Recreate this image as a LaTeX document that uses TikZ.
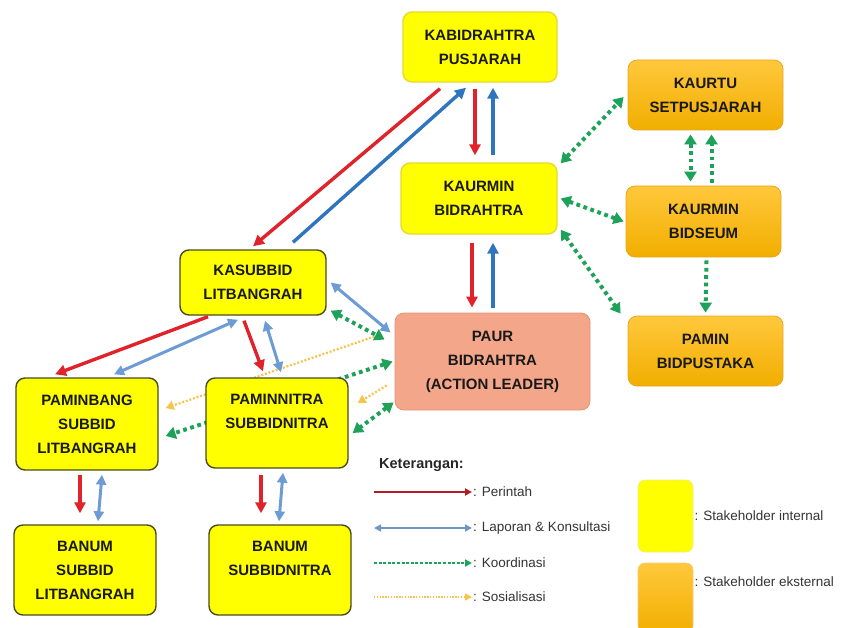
\documentclass[tikz,border=0pt]{standalone}
\usepackage{fontspec}
\setmainfont{Liberation Sans}
\usetikzlibrary{arrows.meta,calc,backgrounds}
\definecolor{ybox}{HTML}{FFFF00}
\definecolor{ydark}{HTML}{4A4A22}
\definecolor{ylight}{HTML}{E8D830}
\definecolor{otop}{HTML}{FFC83C}
\definecolor{obot}{HTML}{F2AE00}
\definecolor{oline}{HTML}{E6A81E}
\definecolor{pfill}{HTML}{F4A68A}
\definecolor{pline}{HTML}{E39274}
\definecolor{cred}{HTML}{E0232B}
\definecolor{cblue}{HTML}{2E74BE}
\definecolor{lblue}{HTML}{6D9CD4}
\definecolor{cgreen}{HTML}{1EA25A}
\definecolor{cyel}{HTML}{F6C34C}
\begin{document}
\begin{tikzpicture}[x=1pt,y=-1pt,
  box/.style={rounded corners=9pt, align=center, inner sep=0pt,
    font=\bfseries\fontsize{15}{24}\selectfont, text=black!90},
  intd/.style={box, fill=ybox, draw=ydark, line width=1.4pt},
  intl/.style={box, fill=ybox, draw=ylight, line width=1.4pt},
  ext/.style={box, top color=otop, bottom color=obot, draw=oline, line width=0.8pt},
  lead/.style={box, fill=pfill, draw=pline, line width=0.8pt},
  perintah/.style={draw=cred, line width=3.4pt, -{Triangle[length=11pt,width=11pt]}},
  lapor/.style={draw=cblue, line width=3.4pt, -{Triangle[length=11pt,width=11pt]}},
  lapor2/.style={draw=lblue, line width=3pt, {Triangle[length=10pt,width=10pt]}-{Triangle[length=10pt,width=10pt]}},
  koor/.style={draw=cgreen, line width=4pt, dash pattern=on 3.8pt off 3.6pt, {Triangle[length=10pt,width=12pt]}-{Triangle[length=10pt,width=12pt]}},
  koor1/.style={draw=cgreen, line width=4pt, dash pattern=on 3.8pt off 3.6pt, -{Triangle[length=10pt,width=12pt]}},
  sosial/.style={draw=cyel, line width=2.2pt, dash pattern=on 2pt off 1.8pt, -{Triangle[length=8pt,width=9pt]}},
  legtxt/.style={anchor=west, inner sep=1pt, font=\fontsize{13.5}{15}\selectfont, text=black!80}
]
\useasboundingbox (0,0) rectangle (866,628);

% ---------- nodes ----------
\node[intl, minimum width=154pt, minimum height=70pt] (kabid) at (480,47) {KABIDRAHTRA\\PUSJARAH};
\node[intl, minimum width=156pt, minimum height=71pt] (kaurmin) at (479,198.5) {KAURMIN\\BIDRAHTRA};
\node[lead, minimum width=195pt, minimum height=97pt] (paur) at (492.5,361.5) {PAUR\\BIDRAHTRA\\(ACTION LEADER)};
\node[ext, minimum width=155pt, minimum height=70pt] (kaurtu) at (705.5,95) {KAURTU\\SETPUSJARAH};
\node[ext, minimum width=155pt, minimum height=71pt] (bidseum) at (703.5,221.5) {KAURMIN\\BIDSEUM};
\node[ext, minimum width=155pt, minimum height=70pt] (pamin) at (705.5,351) {PAMIN\\BIDPUSTAKA};
\node[intd, minimum width=146pt, minimum height=65pt] (kasubbid) at (253,282.5) {KASUBBID\\LITBANGRAH};
\node[intd, minimum width=142pt, minimum height=92pt] (paminbang) at (87,424) {PAMINBANG\\SUBBID\\LITBANGRAH};
\node[intd, minimum width=142pt, minimum height=90pt] (paminnitra) at (277,423) {PAMINNITRA\\SUBBIDNITRA\\\mbox{}};
\node[intd, minimum width=142pt, minimum height=90pt] (banum1) at (85,570) {BANUM\\SUBBID\\LITBANGRAH};
\node[intd, minimum width=142pt, minimum height=90pt] (banum2) at (280,570) {BANUM\\SUBBIDNITRA\\\mbox{}};

% ---------- connectors passing behind PAMINNITRA ----------
\begin{pgfonlayer}{background}
\draw[sosial] ($(paur.west)+(-20,-25)$) -- ($(paminbang.east)+(7,-16)$);
\draw[koor] ($(paur.west)+(-2,0)$) -- ($(paminbang.east)+(7,12)$);
\end{pgfonlayer}

% ---------- top part ----------
\draw[perintah] ($(kabid.south)+(-40,6)$) -- ($(kasubbid.north)+(0,-3)$);
\draw[lapor] ($(kasubbid.north)+(40,-7)$) -- ($(kabid.south)+(-14,5)$);
\draw[perintah] ($(kabid.south)+(-5,6)$) -- ($(kabid.south |- kaurmin.north)+(-5,-7)$);
\draw[lapor] ($(kabid.south |- kaurmin.north)+(13,-7)$) -- ($(kabid.south)+(13,5)$);
\draw[perintah] ($(kaurmin.south)+(-7,8)$) -- ($(kaurmin.south |- paur.north)+(-7,-5)$);
\draw[lapor] ($(kaurmin.south |- paur.north)+(14,-5)$) -- ($(kaurmin.south)+(14,8)$);

% ---------- external coordination ----------
\draw[koor] ($(kaurmin.north east)+(3,1)$) -- ($(kaurtu.west)+(-4,2)$);
\draw[koor] ($(kaurmin.east)+(3,0)$) -- ($(bidseum.west)+(-2,0)$);
\draw[koor] ($(kaurmin.south east)+(3,-5)$) -- ($(pamin.north west)+(-7,-2)$);
\draw[koor] ($(kaurtu.south)+(-15,4)$) -- ($(bidseum.north)+(-13,-4)$);
\draw[koor1] ($(bidseum.north)+(8,-3)$) -- ($(kaurtu.south)+(6,4)$);
\draw[koor1] ($(bidseum.south)+(3,3)$) -- ($(pamin.north)+(0,-3)$);

% ---------- PAUR links ----------
\draw[lapor2] ($(kasubbid.east)+(4,0)$) -- ($(paur.north west)+(-4,20)$);
\draw[koor] ($(kasubbid.south east)+(4,-5)$) -- ($(paur.west)+(-10,-22)$);
\draw[sosial] ($(paur.west)+(-8,24)$) -- ($(paminnitra.east)+(9,-20)$);
\draw[koor] ($(paur.south west)+(-1,-8)$) -- ($(paminnitra.east)+(4,10)$);

% ---------- KASUBBID to subordinates ----------
\draw[perintah] ($(kasubbid.south)+(-45,1)$) -- ($(paminbang.north)+(-32,-3)$);
\draw[lapor2] ($(paminbang.north)+(27,-3)$) -- ($(kasubbid.south)+(-15,4)$);
\draw[perintah] ($(kasubbid.south)+(-9,5)$) -- ($(paminnitra.north)+(-14,-6)$);
\draw[lapor2] ($(kasubbid.south)+(12,5)$) -- ($(paminnitra.north)+(4,-5)$);

% ---------- to BANUM ----------
\draw[perintah] ($(paminbang.south)+(-7,4)$) -- ($(paminbang.south |- banum1.north)+(-7,-11)$);
\draw[lapor2] ($(paminbang.south)+(15,4)$) -- ($(banum1.north)+(13,-3)$);
\draw[perintah] ($(paminnitra.south)+(-16,6)$) -- ($(paminnitra.south |- banum2.north)+(-16,-11)$);
\draw[lapor2] ($(paminnitra.south)+(6,4)$) -- ($(banum2.north)+(-1,-3)$);

% ---------- legend ----------
\node[anchor=west, inner sep=0pt, font=\bfseries\fontsize{14.5}{16}\selectfont, text=black!85] (ket) at (379,465) {Keterangan:};
\coordinate (la1) at (374,492);
\coordinate (la2) at (374,528);
\coordinate (la3) at (374,563);
\coordinate (la4) at (374,597);
\node[legtxt] (lt1) at (472,492) {: Perintah};
\node[legtxt] (lt2) at (472,528) {: Laporan \& Konsultasi};
\node[legtxt] (lt3) at (472,563) {: Koordinasi};
\node[legtxt] (lt4) at (472,597) {: Sosialisasi};
\draw[draw=cred!80!black, line width=2pt, -{Triangle[length=7pt,width=7pt]}] (la1) -- (lt1.west);
\draw[draw=lblue!80!gray, line width=1.6pt, {Triangle[length=7pt,width=7pt]}-{Triangle[length=7pt,width=7pt]}] (la2) -- (lt2.west);
\draw[draw=cgreen, line width=2pt, dash pattern=on 3pt off 1.6pt, -{Triangle[length=7pt,width=7pt]}] (la3) -- (lt3.west);
\draw[draw=cyel, line width=1.6pt, dash pattern=on 1.4pt off 1.4pt, -{Triangle[length=7pt,width=7pt]}] (la4) -- (lt4.west);

\node[box, fill=ybox, draw=ylight!60!white, line width=0.6pt, rounded corners=7pt, minimum width=55pt, minimum height=72pt] (legint) at (665.5,516) {};
\node[box, top color=otop, bottom color=obot, draw=oline!60!white, line width=0.6pt, rounded corners=7pt, minimum width=55pt, minimum height=70pt] (legext) at (665.5,598) {};
\node[legtxt] (lti) at (legint.east) {: Stakeholder internal};
\node[legtxt] (lte) at ($(legext.east)+(0,-16)$) {: Stakeholder eksternal};
\end{tikzpicture}
\end{document}
